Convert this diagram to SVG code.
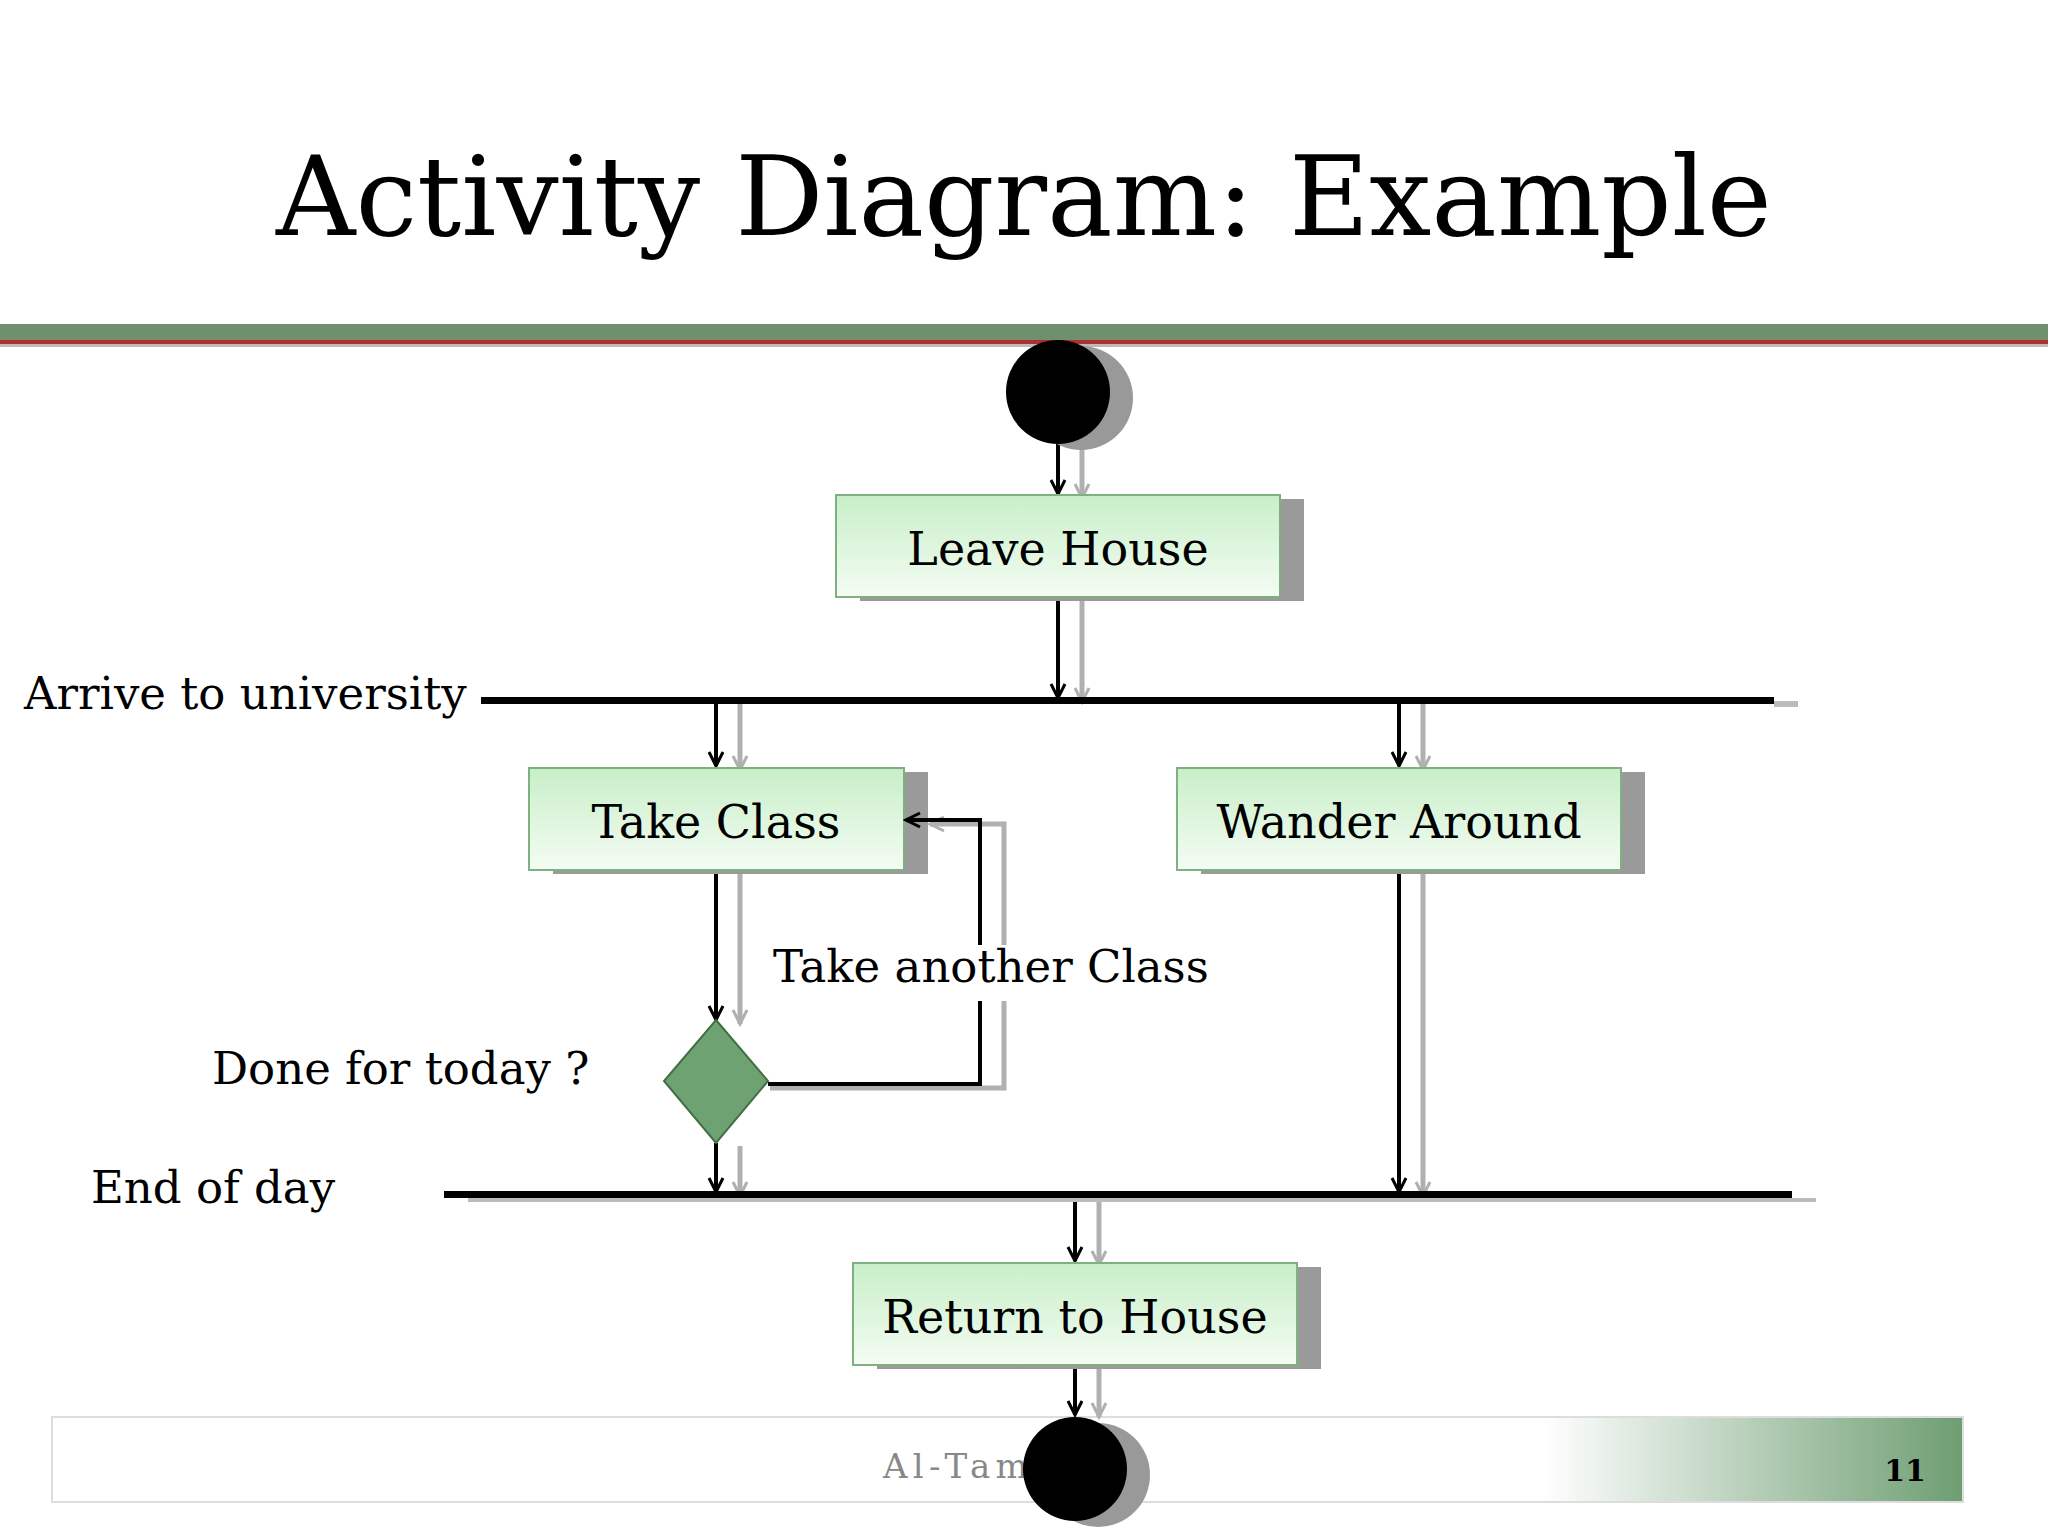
<svg xmlns="http://www.w3.org/2000/svg" width="2048" height="1536" viewBox="0 0 2048 1536">
<style>
.t{font-family:"DejaVu Serif","Liberation Serif",serif;fill:#000}
.n{font-size:46px;text-anchor:middle}
.l{font-size:45px}
.box{fill:url(#g);stroke:#7fb07f;stroke-width:2}
.sh{fill:#9a9a9a}
.a{stroke:#000;stroke-width:4;fill:none;marker-end:url(#ah)}
.s{stroke:#b0b0b0;stroke-width:5;fill:none;marker-end:url(#as)}
</style>
<defs>
<linearGradient id="g" x1="0" y1="0" x2="0" y2="1"><stop offset="0" stop-color="#c8efc8"/><stop offset="1" stop-color="#f4fcf4"/></linearGradient>
<linearGradient id="fg" x1="0" y1="0" x2="1" y2="0"><stop offset="0" stop-color="#fff"/><stop offset="0.78" stop-color="#fff"/><stop offset="1" stop-color="#6e9e72"/></linearGradient>
<marker id="ah" markerWidth="18" markerHeight="18" refX="15" refY="9" orient="auto" markerUnits="userSpaceOnUse"><path d="M1,2 L15,9 L1,16" fill="none" stroke="#000" stroke-width="3"/></marker>
<marker id="as" markerWidth="18" markerHeight="18" refX="15" refY="9" orient="auto" markerUnits="userSpaceOnUse"><path d="M1,2 L15,9 L1,16" fill="none" stroke="#b0b0b0" stroke-width="3"/></marker>
</defs>
<rect width="2048" height="1536" fill="#fff"/>
<text class="t" x="1024" y="235" font-size="110" text-anchor="middle">Activity Diagram: Example</text>
<rect x="0" y="324" width="2048" height="18" fill="#6f8f6f"/>
<rect x="0" y="340" width="2048" height="4" fill="#b03030"/>
<rect x="0" y="344" width="2048" height="3" fill="#bbb"/>
<g id="footer">
<rect x="52" y="1417" width="1911" height="85" fill="url(#fg)" stroke="#ddd" stroke-width="2"/>
<text class="t" x="883" y="1478" font-size="34" textLength="270" style="fill:#888">Al-Tamimi ©</text>
<text class="t" x="1905" y="1481" font-size="30" font-weight="bold" text-anchor="middle">11</text>
</g>
<g id="connectors">
<line class="s" x1="1082" y1="446" x2="1082" y2="498"/><line class="a" x1="1058" y1="444" x2="1058" y2="494"/>
<line class="s" x1="1082" y1="600" x2="1082" y2="702"/><line class="a" x1="1058" y1="597" x2="1058" y2="698"/>
<line class="s" x1="740" y1="704" x2="740" y2="770"/><line class="a" x1="716" y1="702" x2="716" y2="766"/>
<line class="s" x1="1423" y1="704" x2="1423" y2="770"/><line class="a" x1="1399" y1="702" x2="1399" y2="766"/>
<line class="s" x1="740" y1="873" x2="740" y2="1024"/><line class="a" x1="716" y1="870" x2="716" y2="1020"/>
<line class="s" x1="740" y1="1146" x2="740" y2="1196"/><line class="a" x1="716" y1="1143" x2="716" y2="1192"/>
<line class="s" x1="1423" y1="873" x2="1423" y2="1196"/><line class="a" x1="1399" y1="870" x2="1399" y2="1192"/>
<line class="s" x1="1099" y1="1198" x2="1099" y2="1265"/><line class="a" x1="1075" y1="1196" x2="1075" y2="1261"/>
<line class="s" x1="1099" y1="1368" x2="1099" y2="1417"/><line class="a" x1="1075" y1="1365" x2="1075" y2="1415"/>
</g>
<rect x="481" y="697" width="1293" height="7" fill="#000"/><rect x="1774" y="701" width="24" height="6" fill="#bbb"/>
<rect x="444" y="1191" width="1348" height="7" fill="#000"/><rect x="468" y="1198" width="1348" height="4" fill="#bbb"/>
<g id="start"><circle cx="1081" cy="398" r="52" fill="#999"/><circle cx="1058" cy="392" r="52" fill="#000"/></g>
<g id="leave"><rect class="sh" x="860" y="499" width="444" height="102"/><rect class="box" x="836" y="495" width="444" height="102"/><text class="t n" x="1058" y="565">Leave House</text></g>
<g id="take"><rect class="sh" x="553" y="772" width="375" height="102"/><rect class="box" x="529" y="768" width="375" height="102"/><text class="t n" x="716" y="838">Take Class</text></g>
<g id="wander"><rect class="sh" x="1201" y="772" width="444" height="102"/><rect class="box" x="1177" y="768" width="444" height="102"/><text class="t n" x="1399" y="838">Wander Around</text></g>
<g id="decision"><polygon points="716,1020 768,1081 716,1143 664,1081" fill="#6fa273" stroke="#3f6f43" stroke-width="2"/></g>
<g id="return"><rect class="sh" x="877" y="1267" width="444" height="102"/><rect class="box" x="853" y="1263" width="444" height="102"/><text class="t n" x="1075" y="1333">Return to House</text></g>
<g id="end"><circle cx="1098" cy="1475" r="52" fill="#999"/><circle cx="1075" cy="1469" r="52" fill="#000"/></g>
<g id="loop">
<polyline class="s" points="770,1088 1004,1088 1004,824 930,824"/>
<polyline class="a" points="768,1084 980,1084 980,820 906,820"/>
<rect x="766" y="945" width="440" height="56" fill="#fff"/>
</g>
<text class="t l" x="24" y="709">Arrive to university</text>
<text class="t l" x="773" y="982">Take another Class</text>
<text class="t l" x="212" y="1084">Done for today ?</text>
<text class="t l" x="91" y="1203">End of day</text>
</svg>
